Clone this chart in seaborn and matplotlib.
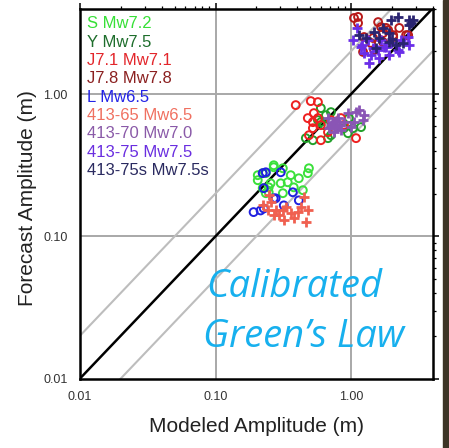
import matplotlib
matplotlib.use("Agg")
import matplotlib.pyplot as plt
import matplotlib.ticker as mticker
from matplotlib.patches import Rectangle
import numpy as np
import pandas as pd
import seaborn as sns

# ---------------- data ----------------
series_names = ["S Mw7.2", "Y Mw7.5", "J7.1 Mw7.1", "J7.8 Mw7.8", "L Mw6.5",
                "413-65 Mw6.5", "413-70 Mw7.0", "413-75 Mw7.5", "413-75s Mw7.5s"]
text_colors = ["#36e036", "#1e6e2c", "#e3262b", "#8b2020", "#2323e6",
               "#f07060", "#8a5aa8", "#6a2ee0", "#2a2a60"]
mark_colors = ["#3be03b", "#22a02a", "#ee2020", "#b81a1a", "#2020e0",
               "#f06050", "#8a55b5", "#6a2ee8", "#2a2470"]
mark_types = ["o", "o", "o", "o", "o", "+", "+", "+", "+"]

s_x = [0.205, 0.235, 0.269, 0.314, 0.359, 0.412, 0.480, 0.489, 0.255, 0.303, 0.341,
       0.378, 0.247, 0.314, 0.223, 0.441, 0.223, 0.269, 0.205, 0.247, 0.235]
s_y = [0.269, 0.278, 0.306, 0.301, 0.269, 0.256, 0.278, 0.301, 0.236, 0.236, 0.240,
       0.221, 0.204, 0.201, 0.218, 0.211, 0.278, 0.316, 0.248, 0.221, 0.201]

y_x = [0.599, 0.653, 0.711, 0.570, 0.599, 0.748, 0.887, 0.950, 1.035, 1.186, 0.464,
       0.523, 0.676, 0.711, 0.967, 0.631]
y_y = [0.797, 0.711, 0.747, 0.656, 0.635, 0.576, 0.576, 0.531, 0.576, 0.586, 0.490,
       0.474, 0.490, 0.514, 0.678, 0.605]

j71_x = [0.391, 0.505, 0.570, 0.480, 0.523, 0.570, 0.523, 0.599, 0.489, 0.599, 0.711,
         0.843, 0.887, 1.089, 0.532, 0.676]
j71_y = [0.837, 0.893, 0.879, 0.678, 0.635, 0.678, 0.576, 0.605, 0.514, 0.474, 0.656,
         0.678, 0.605, 0.490, 0.735, 0.540]

j78_x = [1.052, 1.127, 1.248, 1.227, 1.406, 1.668, 1.726, 1.879, 2.047, 2.27, 2.55,
         1.479, 1.127, 1.585, 1.816, 2.64, 1.455, 1.726, 2.047]
j78_y = [3.43, 3.16, 2.52, 1.98, 2.29, 2.96, 2.69, 2.82, 2.52, 2.92, 2.60,
         2.04, 3.49, 3.21, 2.92, 2.60, 2.48, 2.32, 2.60]

l_x = [0.191, 0.215, 0.227, 0.269, 0.303, 0.372, 0.412, 0.223, 0.319, 0.278, 0.227, 0.235]
l_y = [0.148, 0.152, 0.157, 0.185, 0.282, 0.204, 0.179, 0.278, 0.165, 0.185, 0.218, 0.282]

m65_x = [0.223, 0.255, 0.278, 0.330, 0.359, 0.378, 0.426, 0.449, 0.480, 0.319, 0.293,
         0.405, 0.247, 0.464, 0.243, 0.269, 0.314]
m65_y = [0.165, 0.174, 0.152, 0.160, 0.145, 0.134, 0.160, 0.188, 0.152, 0.130, 0.141,
         0.148, 0.194, 0.126, 0.152, 0.141, 0.152]

m70_x = [0.676, 0.736, 0.774, 0.815, 0.843, 0.887, 0.950, 1.089, 1.146, 1.248, 1.227,
         1.052, 0.748, 0.687, 0.801, 1.000, 0.711, 0.780]
m70_y = [0.678, 0.625, 0.586, 0.605, 0.557, 0.635, 0.735, 0.747, 0.771, 0.711, 0.656,
         0.635, 0.540, 0.576, 0.678, 0.586, 0.605, 0.650]

m75_x = [1.035, 1.186, 1.248, 1.406, 1.585, 1.755, 1.978, 2.23, 2.35, 2.64, 1.336,
         1.668, 1.359, 1.611, 1.911, 2.27, 2.69, 1.455, 1.816, 1.10, 1.20]
m75_y = [2.40, 2.14, 1.94, 1.88, 2.04, 2.14, 2.29, 2.04, 2.40, 2.52, 2.40,
         2.40, 1.65, 1.79, 1.88, 1.98, 2.21, 2.11, 2.14, 2.90, 2.21]

m75s_x = [2.23, 2.69, 2.78, 1.726, 1.911, 1.479, 1.978, 2.43, 2.88, 2.69, 1.911,
          2.15, 1.532, 1.30, 1.60, 2.00, 1.15]
m75s_y = [3.49, 3.32, 3.16, 2.92, 2.69, 2.73, 3.32, 2.29, 3.32, 3.06, 2.32,
          2.21, 2.11, 2.50, 2.50, 2.45, 2.60]

xs = [s_x, y_x, j71_x, j78_x, l_x, m65_x, m70_x, m75_x, m75s_x]
ys = [s_y, y_y, j71_y, j78_y, l_y, m65_y, m70_y, m75_y, m75s_y]

axis_min, axis_max = 0.01, 4.0
tick_vals = [0.01, 0.1, 1.0]
tick_labels = ["0.01", "0.10", "1.00"]
ratio_lines = [2.0, 0.5]

# ---------------- plot ----------------
sns.set_style("white")
plt.rcParams["font.family"] = ["Liberation Sans", "DejaVu Sans"]

W, H = 449, 448
fig = plt.figure(figsize=(W / 100, H / 100), dpi=100)
ax_l, ax_r, ax_t, ax_b = 80, 432.6, 8.5, 378.5
ax = fig.add_axes([ax_l / W, 1 - ax_b / H, (ax_r - ax_l) / W, (ax_b - ax_t) / H])

ax.set_xscale("log")
ax.set_yscale("log")
ax.set_xlim(axis_min, axis_max)
ax.set_ylim(axis_min, axis_max)

# grid lines at decades
for v in [0.1, 1.0]:
    ax.axvline(v, color="#a8a8a8", lw=1.4, zorder=1)
    ax.axhline(v, color="#a8a8a8", lw=1.4, zorder=1)

line = np.array([axis_min, axis_max])
for k in ratio_lines:
    ax.plot(line, line * k, color="#bdbdbd", lw=1.5, zorder=1)
ax.plot(line, line, color="black", lw=1.8, zorder=3)

for name, x, y, mc, mk in zip(series_names, xs, ys, mark_colors, mark_types):
    df = pd.DataFrame({"x": x, "y": y})
    if mk == "o":
        sns.scatterplot(data=df, x="x", y="y", ax=ax, marker="o", s=32,
                        facecolor="none", edgecolor=mc, linewidth=1.4, zorder=4)
    else:
        sns.scatterplot(data=df, x="x", y="y", ax=ax, marker="+", s=42,
                        color=mc, linewidth=2.0, zorder=4)

ax.set_xlabel("Modeled Amplitude (m)", fontsize=15, color="#222222", labelpad=10)
ax.set_ylabel("Forecast Amplitude (m)", fontsize=15, color="#222222")
ax.yaxis.set_label_coords((37 - ax_l) / (ax_r - ax_l), 1 - (198 - ax_t) / (ax_b - ax_t))

ax.xaxis.set_major_locator(mticker.FixedLocator(tick_vals))
ax.yaxis.set_major_locator(mticker.FixedLocator(tick_vals))
ax.xaxis.set_major_formatter(mticker.FixedFormatter(tick_labels))
ax.yaxis.set_major_formatter(mticker.FixedFormatter(tick_labels))
ax.xaxis.set_minor_locator(mticker.LogLocator(base=10, subs=np.arange(2, 10)))
ax.yaxis.set_minor_locator(mticker.LogLocator(base=10, subs=np.arange(2, 10)))
ax.xaxis.set_minor_formatter(mticker.NullFormatter())
ax.yaxis.set_minor_formatter(mticker.NullFormatter())
ax.tick_params(which="major", direction="out", length=4, width=1.1, colors="black",
               labelsize=9, labelcolor="#333333", top=True, right=True, pad=5)
ax.tick_params(which="minor", direction="out", length=2.5, width=0.9, colors="black",
               top=True, right=True)

for sp in ax.spines.values():
    sp.set_visible(True)
    sp.set_color("black")
    sp.set_linewidth(1.8)

# colored legend text
y0 = 24
for i, (name, tc) in enumerate(zip(series_names, text_colors)):
    fig.text(87 / W, 1 - (y0 + i * 18.3) / H, name, color=tc, fontsize=12,
             va="center", ha="left")

# annotation
fig.text(206 / W, 1 - 297 / H, "Calibrated", color="#17b0ee", fontsize=27.5,
         style="italic", family=["Open Sans", "DejaVu Sans"], va="baseline", ha="left")
fig.text(203 / W, 1 - 347 / H, "Green\u2019s Law", color="#17b0ee", fontsize=27.5,
         style="italic", family=["Open Sans", "DejaVu Sans"], va="baseline", ha="left")

# dark strip at the right edge
fig.patches.append(Rectangle((443 / W, 0), 1 - 443 / W, 1, transform=fig.transFigure,
                             color="#3d3526", zorder=0))

fig.savefig("out.png", dpi=100)
